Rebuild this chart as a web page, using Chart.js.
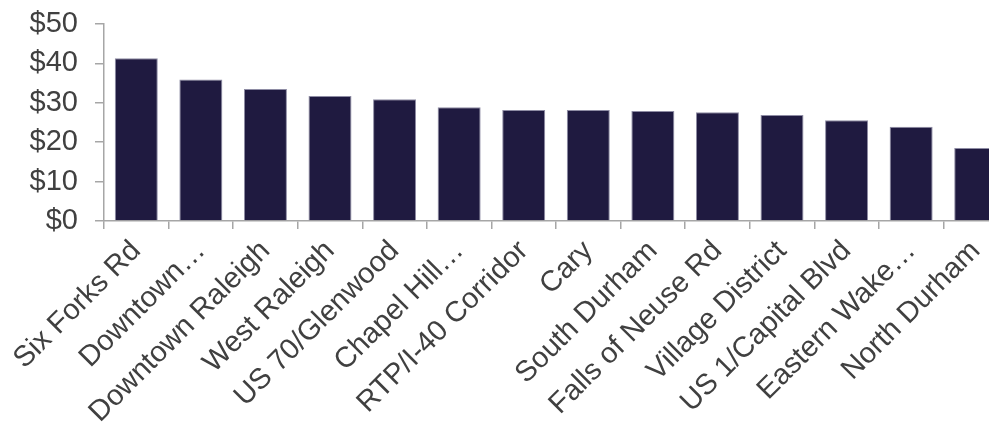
<!DOCTYPE html>
<html>
<head>
<meta charset="utf-8">
<title>Rent by submarket</title>
<script src="https://cdn.jsdelivr.net/npm/chart.js@4"></script>
<style>
  html, body { margin: 0; padding: 0; background: #fff; overflow: hidden; }
  #wrap { width: 1010px; height: 431px; }
</style>
</head>
<body>
<div id="wrap"><canvas id="chart" width="1010" height="431"></canvas></div>
<script>
// categories (long names are cut off as in the original)
const submarkets = [
  'Six Forks Rd', 'Downtown…', 'Downtown Raleigh', 'West Raleigh', 'US 70/Glenwood',
  'Chapel Hill…', 'RTP/I-40 Corridor', 'Cary', 'South Durham', 'Falls of Neuse Rd',
  'Village District', 'US 1/Capital Blvd', 'Eastern Wake…', 'North Durham'
];
const rents = [41.3, 35.9, 33.5, 31.7, 30.9, 28.9, 28.2, 28.2, 27.9, 27.6, 26.9, 25.6, 23.9, 18.5];
const yTicks = [0, 10, 20, 30, 40, 50];

const axisGray = '#a6a6a6';
const textGray = '#404040';

new Chart(document.getElementById('chart').getContext('2d'), {
  type: 'bar',
  data: {
    labels: submarkets,
    datasets: [{
      data: rents,
      backgroundColor: '#1f1a40',
      borderColor: '#8e8ca4',
      borderWidth: 1,
      barPercentage: 0.666,
      categoryPercentage: 1
    }]
  },
  options: {
    responsive: false,
    animation: false,
    devicePixelRatio: 1,
    layout: { padding: { top: 24, right: 2, left: 0, bottom: 0 } },
    plugins: { legend: { display: false }, tooltip: { enabled: false } },
    scales: {
      x: {
        grid: { drawOnChartArea: false, color: axisGray, lineWidth: 1.5, tickLength: 8 },
        border: { color: axisGray, width: 1.5 },
        ticks: {
          color: textGray,
          font: { family: 'Liberation Sans, Arial, sans-serif', size: 29 },
          minRotation: 45, maxRotation: 45, autoSkip: false, padding: 5
        },
        afterFit: s => { s.height = 210; }
      },
      y: {
        min: 0, max: 50,
        afterBuildTicks: s => { s.ticks = yTicks.map(v => ({ value: v })); },
        grid: { drawOnChartArea: false, color: axisGray, lineWidth: 1.5, tickLength: 9 },
        border: { color: axisGray, width: 1.5 },
        ticks: {
          color: textGray,
          font: { family: 'Liberation Sans, Arial, sans-serif', size: 29 },
          padding: 17,
          autoSkip: false,
          callback: v => '$' + v
        },
        afterFit: s => { s.width = 104; s.paddingTop = 0; s.paddingBottom = 0; }
      }
    }
  }
});
</script>
</body>
</html>
